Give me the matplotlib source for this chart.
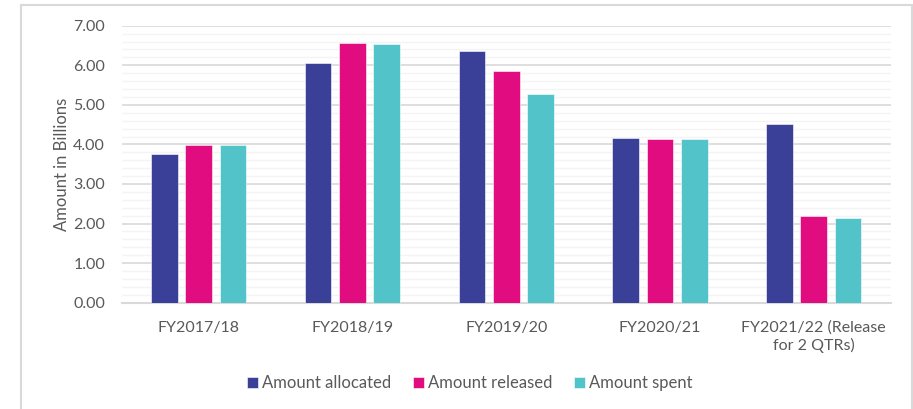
import matplotlib
matplotlib.use("Agg")
import matplotlib.pyplot as plt
import numpy as np
from matplotlib.patches import Rectangle
from matplotlib.ticker import MultipleLocator

categories = ["FY2017/18", "FY2018/19", "FY2019/20", "FY2020/21",
              "FY2021/22 (Release\nfor 2 QTRs)"]
allocated = [3.76, 6.05, 6.35, 4.15, 4.52]
released = [3.99, 6.56, 5.85, 4.14, 2.20]
spent = [3.99, 6.55, 5.28, 4.14, 2.13]
series_names = ["Amount allocated", "Amount released", "Amount spent"]
colors = ["#3A3F98", "#E00C80", "#52C4C9"]
yticks = [0, 1, 2, 3, 4, 5, 6, 7]

plt.rcParams['font.family'] = ['Lato', 'DejaVu Sans']
txt = "#595959"

fig = plt.figure(figsize=(9.13, 4.09), dpi=100)
ax = fig.add_axes([121.7/913, 1-302.7/409, (890.7-121.7)/913, (302.7-25.7)/409])

x = np.arange(len(categories))
w = 0.173
step = 0.223
for i, (vals, c, n) in enumerate(zip([allocated, released, spent], colors, series_names)):
    ax.bar(x + (i-1)*step, vals, width=w, color=c, label=n, zorder=3,
           edgecolor="white", linewidth=0.4)

ax.set_xlim(-0.5, len(categories)-0.5)
ax.set_ylim(0, 7)
ax.set_yticks(yticks)
ax.set_yticklabels([f"{v:.2f}" for v in yticks])
ax.yaxis.set_minor_locator(MultipleLocator(0.2))
ax.grid(axis='y', which='major', color="#D9D9D9", linewidth=1.2, zorder=0)
ax.grid(axis='y', which='minor', color="#F4F4F4", linewidth=1.0, zorder=0)
ax.set_axisbelow(True)
ax.set_xticks(x)
ax.set_xticklabels(categories)
ax.tick_params(axis='both', which='both', length=0, colors=txt, labelsize=11.5)
ax.tick_params(axis='y', pad=12)
ax.tick_params(axis='x', pad=13)
for s in ['top', 'right', 'left']:
    ax.spines[s].set_visible(False)
ax.spines['bottom'].set_color("#D9D9D9")
ax.spines['bottom'].set_linewidth(1.5)
ax.set_ylabel("Amount in Billions", color=txt, fontsize=12, labelpad=2)

handles, labels = ax.get_legend_handles_labels()
leg = fig.legend(handles, labels, loc='center', bbox_to_anchor=(470/913, 1-383/409),
                 ncol=3, frameon=False, fontsize=12, handlelength=0.65, handleheight=0.65,
                 handletextpad=0.25, columnspacing=1.3, labelcolor=txt)

fig.add_artist(Rectangle((21/913, -0.1), (911.5-21)/913, 1.1-5/409, transform=fig.transFigure,
                         fill=False, edgecolor="#D9D9D9", linewidth=1.5))

fig.savefig("out.png", dpi=100)
